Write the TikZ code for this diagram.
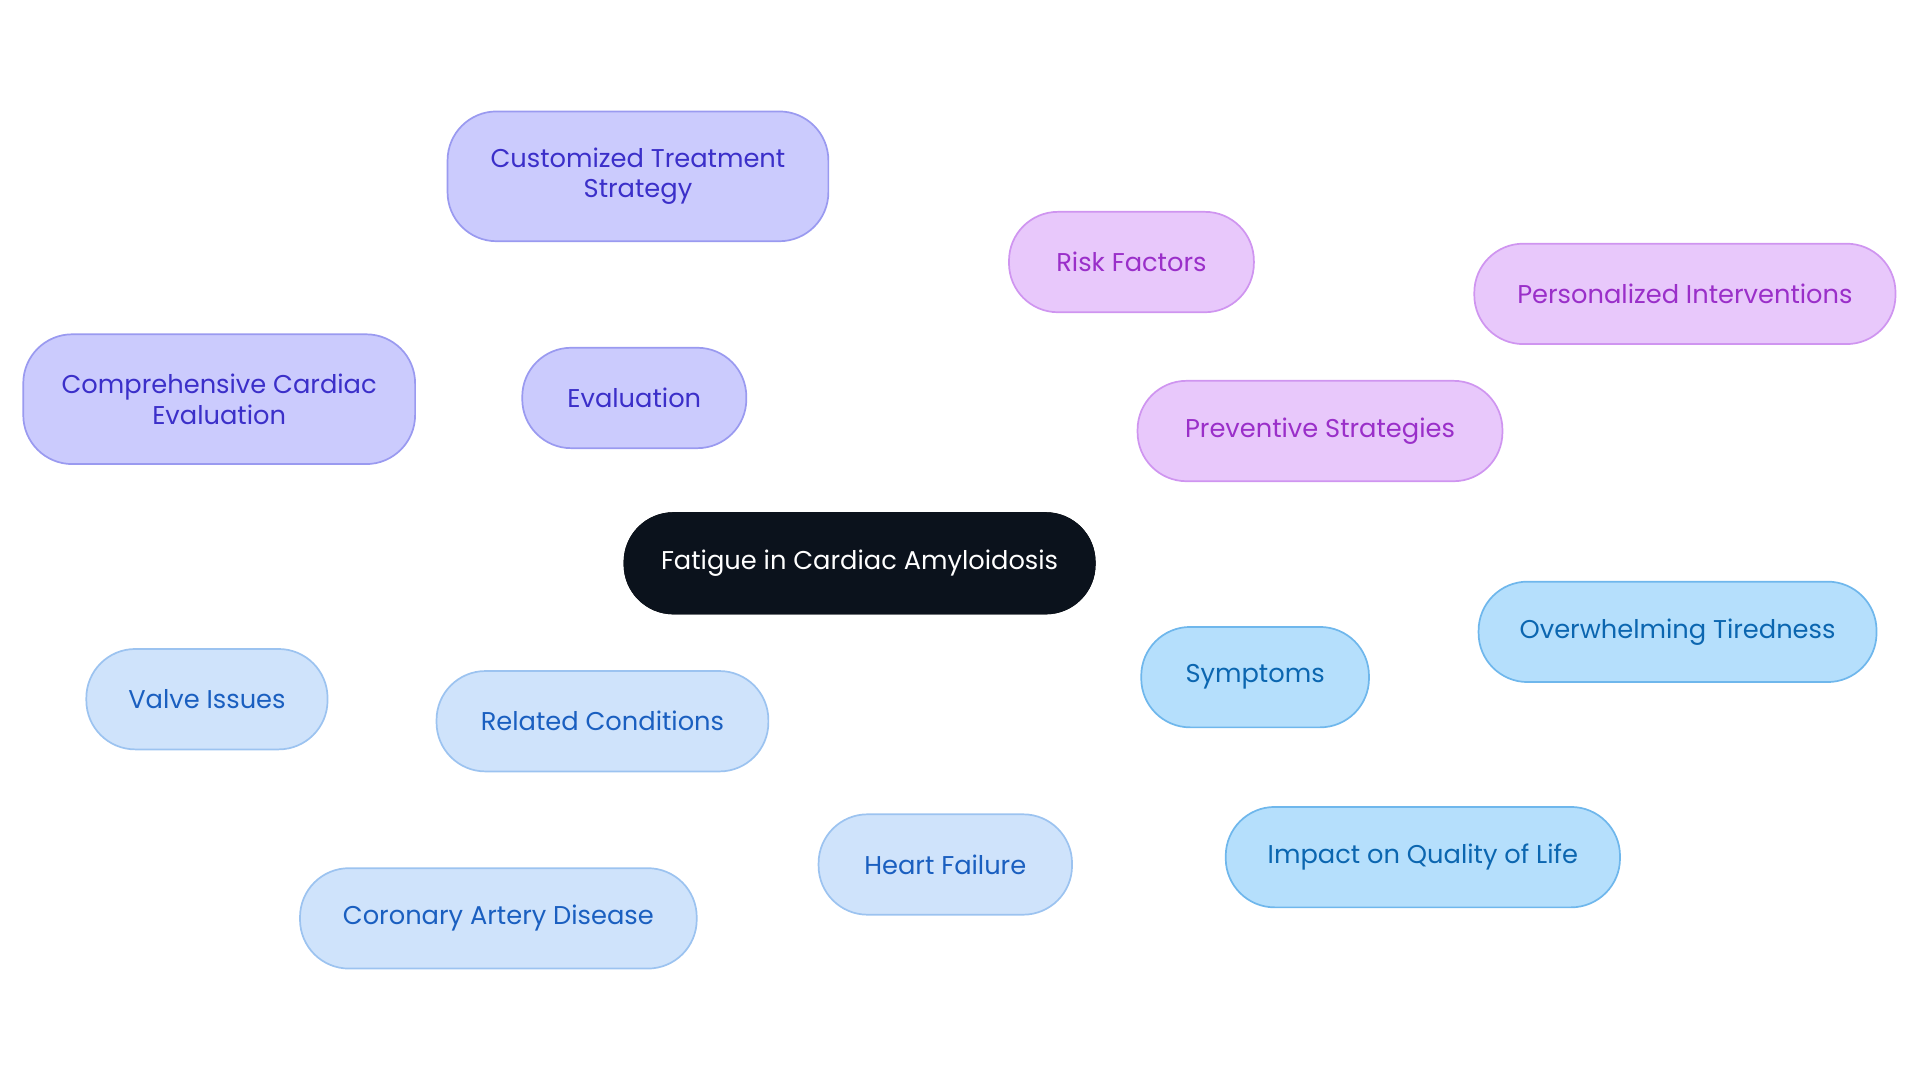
\documentclass[tikz,border=0pt]{standalone}
\usepackage{fontspec}
\setmainfont{Poppins}
\definecolor{rootc}{HTML}{0B121C}
\definecolor{evf}{HTML}{CBCBFD}\definecolor{evd}{HTML}{9A9AF0}\definecolor{evt}{HTML}{3B2FC9}
\definecolor{pvf}{HTML}{E8C8FB}\definecolor{pvd}{HTML}{CF95F0}\definecolor{pvt}{HTML}{9A2FC9}
\definecolor{syf}{HTML}{B5DFFC}\definecolor{syd}{HTML}{6FB7EC}\definecolor{syt}{HTML}{0B66B0}
\definecolor{rcf}{HTML}{CFE3FB}\definecolor{rcd}{HTML}{9CC3F0}\definecolor{rct}{HTML}{1A5FC0}
\begin{document}
\begin{tikzpicture}[x=0.5pt,y=-0.5pt,
 b/.style={rounded corners=20pt,draw,line width=0.7pt,align=center,font=\fontsize{10.5}{12.5}\selectfont,inner sep=0pt},
 ev/.style={b,fill=evf,draw=evd,text=evt},
 pv/.style={b,fill=pvf,draw=pvd,text=pvt},
 sy/.style={b,fill=syf,draw=syd,text=syt},
 rc/.style={b,fill=rcf,draw=rcd,text=rct},
 e/.style={line width=1.5pt}]
\useasboundingbox (0,0) rectangle (1568,884);
\def\nd#1#2#3#4#5#6#7{\node[#1,minimum width=#4*0.5pt,minimum height=#5*0.5pt] (#6) at (#2,#3) {#7};}
\nd{b}{702}{460}{384}{82}{root}{Fatigue in Cardiac Amyloidosis}
\node[b,fill=rootc,draw=rootc,text=white,minimum width=192pt,minimum height=41pt] at (702,460) {Fatigue in Cardiac Amyloidosis};
\nd{ev}{518}{325}{183}{82}{ev}{Evaluation}
\nd{ev}{521}{144}{311}{106}{cu}{Customized Treatment\\Strategy}
\nd{ev}{179}{326}{320}{106}{co}{Comprehensive Cardiac\\Evaluation}
\nd{pv}{1078}{352}{298}{82}{pv}{Preventive Strategies}
\nd{pv}{924}{214}{200}{82}{ri}{Risk Factors}
\nd{pv}{1376}{240}{344}{82}{pe}{Personalized Interventions}
\nd{sy}{1025}{553}{186}{82}{sy}{Symptoms}
\nd{sy}{1370}{516}{325}{82}{ov}{Overwhelming Tiredness}
\nd{sy}{1162}{700}{322}{82}{im}{Impact on Quality of Life}
\nd{rc}{492}{589}{271}{82}{rc}{Related Conditions}
\nd{rc}{169}{571}{197}{82}{va}{Valve Issues}
\nd{rc}{772}{706}{207}{82}{he}{Heart Failure}
\nd{rc}{407}{750}{324}{82}{cr}{Coronary Artery Disease}
\begin{scope}[on background layer/.style={}]
\end{scope}
\begin{pgfonlayer}{main}\end{pgfonlayer}
\end{tikzpicture}
\end{document}
